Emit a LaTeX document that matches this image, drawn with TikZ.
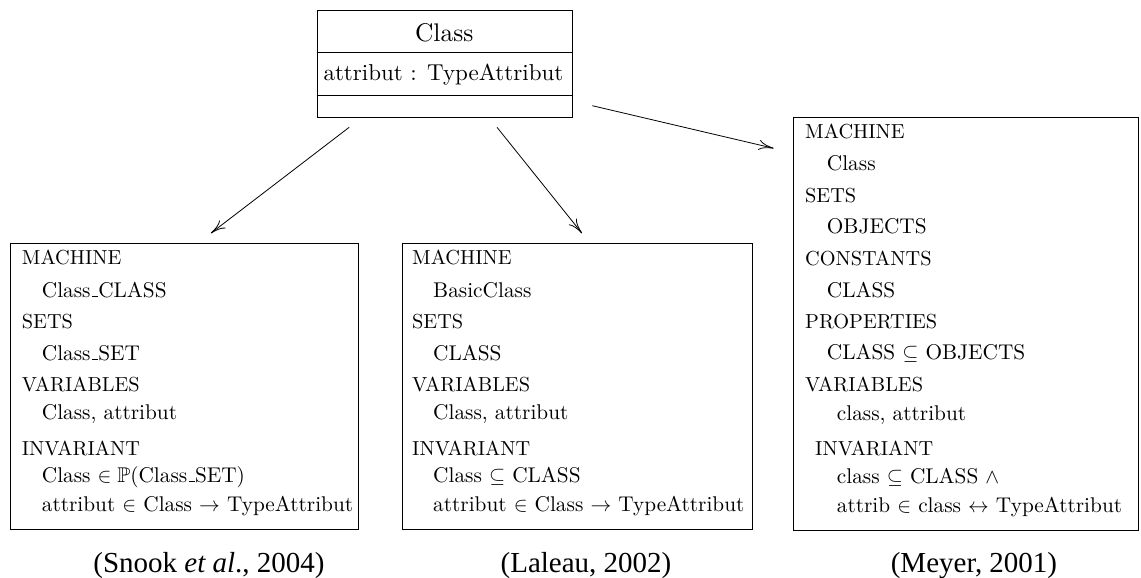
\documentclass[tikz,border=0pt]{standalone}
\usepackage{amssymb}
\usepackage{fontspec}
\setmainfont{lmroman10-regular.otf}[ItalicFont=lmroman10-italic.otf, BoldFont=lmroman10-bold.otf]
\newfontfamily\capfont{Liberation Serif}
\usetikzlibrary{arrows.meta}
\newcommand\bsize{\fontsize{21.3}{24}\selectfont}
\newcommand\hdrsize{\fontsize{20.3}{24}\selectfont}
\newcommand\usc{\kern.06em\rule{.3em}{.06em}}
\tikzset{
  x=1pt, y=-1pt,
  boxline/.style={draw=black, line width=0.9pt},
  mbox/.style={boxline, inner sep=0pt, anchor=north west},
  txt/.style={anchor=base west, inner sep=0pt, font=\bsize},
  hdr/.style={anchor=base west, inner sep=0pt, font=\hdrsize},
  captxt/.style={anchor=base, inner sep=0pt, font=\capfont\fontsize{29}{32}\selectfont},
  arr/.style={line width=0.8pt, -{To[length=15pt,width=10pt]}},
}
\begin{document}
\begin{tikzpicture}
\useasboundingbox (0,0) rectangle (1141,578);

% UML class box
\node[mbox, minimum width=255pt, minimum height=106.7pt] (class) at (316.7,10) {};
\draw[boxline] (316.7,52.3) -- (571.7,52.3);
\draw[boxline] (316.7,95.7) -- (571.7,95.7);
\node[anchor=base, inner sep=0pt, font=\fontsize{25.5}{28}\selectfont] (cname) at (444.2,41.7) {Class};
\node[anchor=base west, inner sep=0pt, font=\fontsize{23}{26}\selectfont] (cattr) at (323.3,81) {attribut : TypeAttribut};

% machine boxes
\node[mbox, minimum width=348.6pt, minimum height=285.7pt] (snook) at (9.7,243.3) {};
\node[mbox, minimum width=349.4pt, minimum height=285.7pt] (laleau) at (402.3,243.3) {};
\node[mbox, minimum width=344.7pt, minimum height=413.3pt] (meyer) at (793.3,116.7) {};

% arrows
\coordinate (a1s) at (349.2,127.3);
\coordinate (a1e) at (210.8,233.3);
\coordinate (a2s) at (497,127.3);
\coordinate (a2e) at (582,233.3);
\coordinate (a3s) at (592.3,105.7);
\coordinate (a3e) at (773.7,148.3);
\draw[arr] (a1s) -- (a1e);
\draw[arr] (a2s) -- (a2e);
\draw[arr] (a3s) -- (a3e);

% Snook box text
\node[hdr] (s1) at (21.7,264) {MACHINE};
\node[txt] (s2) at (41.7,297) {Class\usc CLASS};
\node[hdr] (s3) at (21.7,328) {SETS};
\node[txt] (s4) at (41.7,360) {Class\usc SET};
\node[hdr] (s5) at (21.7,391) {VARIABLES};
\node[txt] (s6) at (41.7,419) {Class, attribut};
\node[hdr] (s7) at (21.7,455) {INVARIANT};
\node[txt] (s8) at (41.7,482) {Class $\in \mathbb{P}$(Class\usc SET)};
\node[txt] (s9) at (41.7,511) {attribut $\in$ Class $\rightarrow$ TypeAttribut};

% Laleau box text
\node[hdr] (l1) at (412,264) {MACHINE};
\node[txt] (l2) at (433,297) {BasicClass};
\node[hdr] (l3) at (412,328) {SETS};
\node[txt] (l4) at (433,360) {CLASS};
\node[hdr] (l5) at (412,391) {VARIABLES};
\node[txt] (l6) at (433,419) {Class, attribut};
\node[hdr] (l7) at (412,455) {INVARIANT};
\node[txt] (l8) at (433,482) {Class $\subseteq$ CLASS};
\node[txt] (l9) at (433,511) {attribut $\in$ Class $\rightarrow$ TypeAttribut};

% Meyer box text
\node[hdr] (m1) at (805,138) {MACHINE};
\node[txt] (m2) at (826.7,170) {Class};
\node[hdr] (m3) at (805,202) {SETS};
\node[txt] (m4) at (826.7,233) {OBJECTS};
\node[hdr] (m5) at (805,265) {CONSTANTS};
\node[txt] (m6) at (826.7,297) {CLASS};
\node[hdr] (m7) at (805,328) {PROPERTIES};
\node[txt] (m8) at (826.7,359) {CLASS $\subseteq$ OBJECTS};
\node[hdr] (m9) at (805,391) {VARIABLES};
\node[txt] (m10) at (836.7,420) {class, attribut};
\node[hdr] (m11) at (815,455) {INVARIANT};
\node[txt] (m12) at (836.7,483) {class $\subseteq$ CLASS $\wedge$};
\node[txt] (m13) at (836.7,512) {attrib $\in$ class $\leftrightarrow$ TypeAttribut};

% captions
\node[captxt] (c1) at (209,572) {(Snook \textit{et al}., 2004)};
\node[captxt] (c2) at (586,572) {(Laleau, 2002)};
\node[captxt] (c3) at (974,572) {(Meyer, 2001)};
\end{tikzpicture}
\end{document}
